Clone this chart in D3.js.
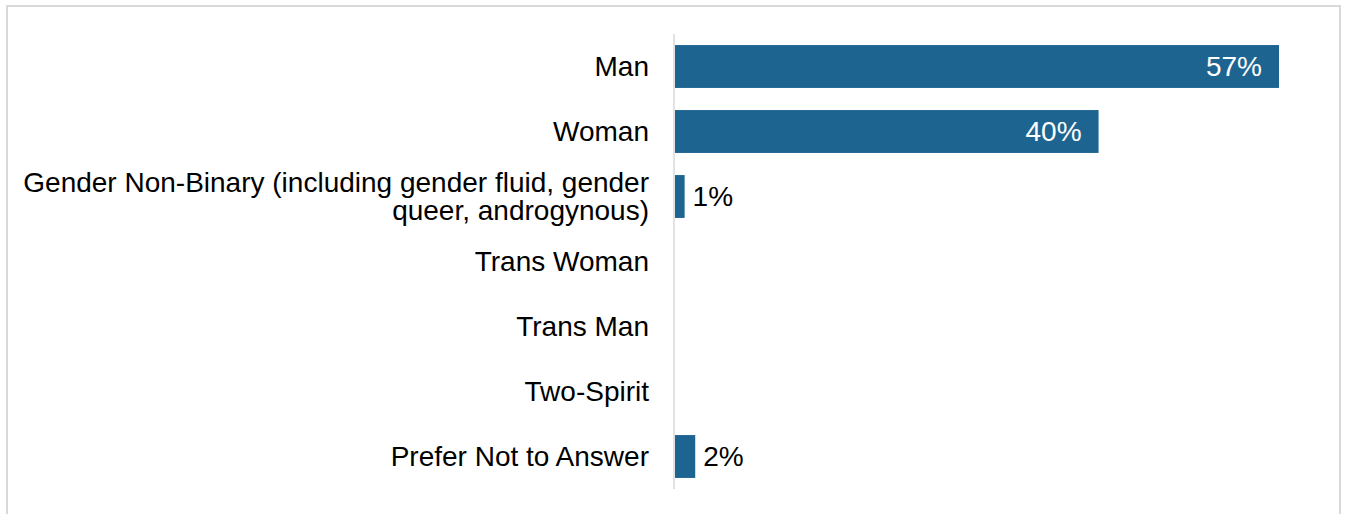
<!DOCTYPE html>
<html>
<head>
<meta charset="utf-8">
<script src="https://cdn.jsdelivr.net/npm/d3@7"></script>
<style>
  html, body { margin: 0; padding: 0; background: #fff; }
  svg { display: block; font-family: "Liberation Sans", Arial, sans-serif; }
</style>
</head>
<body>
<svg id="chart" width="1347" height="514"></svg>
<script>
var categories = ['Man', 'Woman', 'Gender Non-Binary (including gender fluid, gender queer, androgynous)',
    'Trans Woman', 'Trans Man', 'Two-Spirit', 'Prefer Not to Answer'];
var values = [57, 40, 1, 0, 0, 0, 2];
var value_labels = ['57%', '40%', '1%', '', '', '', '2%'];

var bar_color = '#1d6491';
var font_size = 28;

draw_chart();

function draw_chart(){
    var svg = d3.select('#chart');

    // outer frame
    svg.append('rect')
        .attr('x', 7).attr('y', 6)
        .attr('width', 1333).attr('height', 520)
        .attr('fill', 'none')
        .attr('stroke', '#d9d9d9')
        .attr('stroke-width', 2);

    var x0 = 674;
    var x_scale = d3.scaleLinear()
        .domain([0, 57])
        .range([x0, 1279]);

    var y_scale = d3.scaleBand()
        .domain(categories)
        .range([34, 489])
        .paddingInner(0.34)
        .paddingOuter(0.17);

    // category labels
    var y_axis = svg.append('g')
        .attr('transform', 'translate(' + x0 + ',0)')
        .call(d3.axisLeft(y_scale).tickSize(0).tickPadding(25));
    y_axis.select('.domain').remove();
    y_axis.selectAll('text')
        .attr('font-size', font_size)
        .attr('font-family', '"Liberation Sans", Arial, sans-serif')
        .attr('fill', '#000')
        .call(wrap, 632);

    // bars
    svg.append('g').selectAll('rect')
        .data(categories)
        .join('rect')
        .attr('x', x_scale(0) + 1)
        .attr('y', function(d){ return y_scale(d); })
        .attr('width', function(d, i){ return Math.max(0, x_scale(values[i]) - x_scale(0) - 1); })
        .attr('height', y_scale.bandwidth())
        .attr('fill', bar_color);

    // axis line
    svg.append('line')
        .attr('x1', x0).attr('x2', x0)
        .attr('y1', 34).attr('y2', 489)
        .attr('stroke', '#d9d9d9')
        .attr('stroke-width', 1.5);

    // value labels
    svg.append('g').selectAll('text')
        .data(categories)
        .join('text')
        .attr('font-size', font_size)
        .attr('dy', '0.35em')
        .attr('y', function(d){ return y_scale(d) + y_scale.bandwidth() / 2; })
        .attr('x', function(d, i){
            return values[i] > 10 ? x_scale(values[i]) - 17 : x_scale(values[i]) + 8;
        })
        .attr('text-anchor', function(d, i){ return values[i] > 10 ? 'end' : 'start'; })
        .attr('fill', function(d, i){ return values[i] > 10 ? '#fff' : '#000'; })
        .text(function(d, i){ return value_labels[i]; });
}

function wrap(texts, max_width){
    texts.each(function(){
        var text = d3.select(this);
        var words = text.text().split(/\s+/);
        var x = text.attr('x');
        text.text(null);
        var lines = [];
        var line = [];
        var tspan = text.append('tspan');
        words.forEach(function(w){
            line.push(w);
            tspan.text(line.join(' '));
            if (tspan.node().getComputedTextLength() > max_width && line.length > 1){
                line.pop();
                lines.push(line.join(' '));
                line = [w];
                tspan.text(w);
            }
        });
        lines.push(line.join(' '));
        text.text(null);
        var lh = 0.97;
        var start = 0.34 - (lines.length - 1) * lh / 2;
        lines.forEach(function(l, i){
            text.append('tspan')
                .attr('x', x)
                .attr('dy', (i === 0 ? start : lh) + 'em')
                .text(l);
        });
        text.attr('dy', null);
    });
}
</script>
</body>
</html>
